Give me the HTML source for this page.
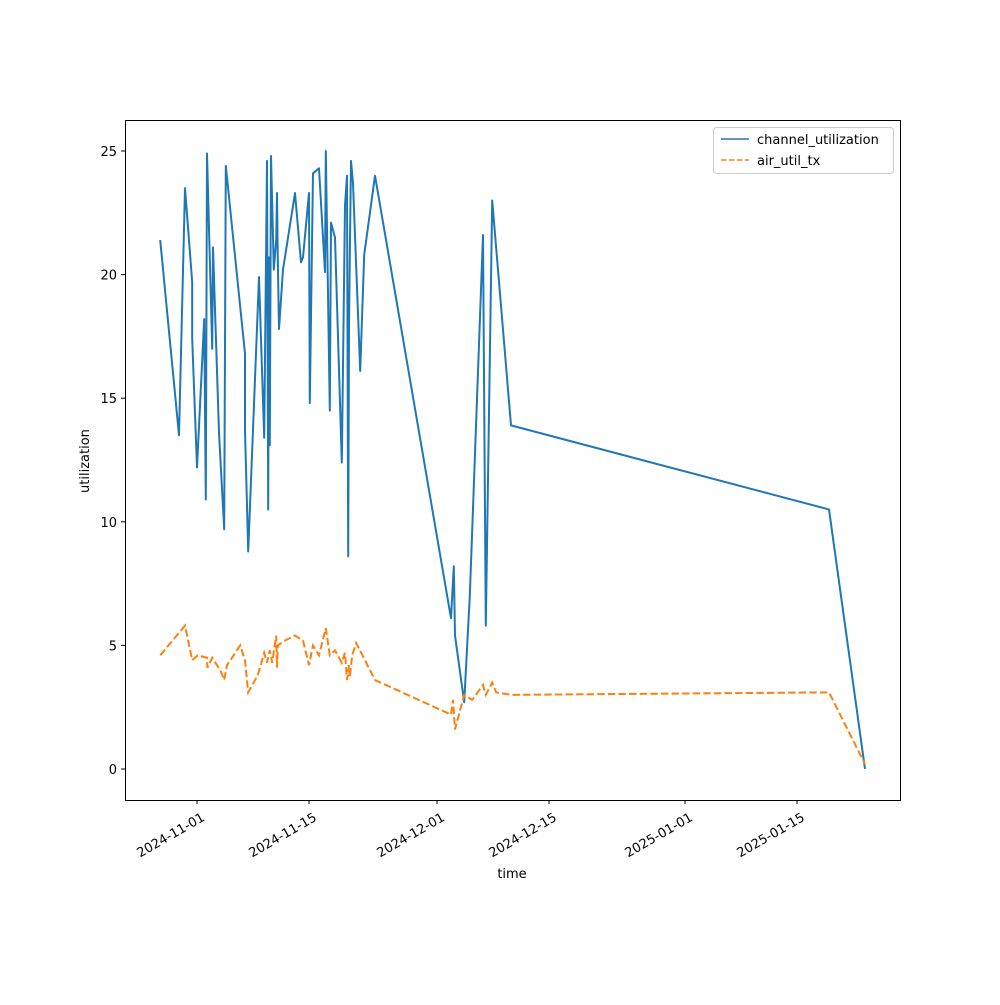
<!DOCTYPE html>
<html><head><meta charset="utf-8"><style>
body{margin:0;background:#fff;font-family:"Liberation Sans","DejaVu Sans",sans-serif}
svg text{font-family:"DejaVu Sans","Liberation Sans",sans-serif;font-size:13px;fill:#000}
</style></head><body>
<svg id="chart" width="1000" height="1000">
<rect x="125.5" y="120.5" width="775" height="680" fill="none" stroke="#000" stroke-width="1"/>
<g id="ticks"></g>
<g id="series"></g>
<text x="512" y="878" text-anchor="middle">time</text>
<text transform="translate(89,461) rotate(-90)" text-anchor="middle">utilization</text>
<g>
<rect x="713.5" y="127.5" width="180" height="46" rx="3" fill="#fff" fill-opacity="0.8" stroke="#ccc"/>
<line x1="721" y1="139" x2="749" y2="139" stroke="#1f77b4" stroke-width="1.5"/>
<text x="757" y="144">channel_utilization</text>
<line x1="721" y1="160" x2="749" y2="160" stroke="#ff7f0e" stroke-width="1.5" stroke-dasharray="5.5,2.4"/>
<text x="757" y="165">air_util_tx</text>
</g>
</svg>
<script>
// days since 2024-11-01
const chDays=[-4.6,-2.25,-1.5,-0.6,-0.6,0,0.9,1.1,1.25,1.9,2.0,2.75,3.4,3.6,6.0,6.0,6.4,7.75,8.4,8.75,8.9,9.0,9.1,9.25,9.6,9.9,10.0,10.1,10.25,10.75,12.25,13.0,13.25,14.0,14.1,14.5,15.25,16.0,16.1,16.6,16.75,17.25,18.1,18.5,18.75,18.9,19.0,19.1,19.25,19.5,20.4,20.9,22.25,31.75,32.1,32.25,33.4,34.1,35.75,36.1,36.9,39.25,79.0,83.5];
const chVals=[21.4,13.5,23.5,19.7,17.4,12.2,18.2,10.9,24.9,17.0,21.1,13.6,9.7,24.4,16.8,13.7,8.8,19.9,13.4,24.6,10.5,20.7,13.1,24.8,20.2,21.4,23.3,20.6,17.8,20.2,23.3,20.5,20.7,23.3,14.8,24.1,24.3,20.1,25.0,14.5,22.1,21.5,12.4,22.8,24.0,8.6,17.9,20.7,24.6,23.7,16.1,20.8,24.0,6.1,8.2,5.4,2.7,7.0,21.6,5.8,23.0,13.9,10.5,0.0];
const airDays=[-4.6,-1.5,-0.6,0.1,1.25,1.3,1.9,2.9,3.4,3.75,5.4,6.0,6.4,7.6,8.4,8.75,9.1,9.4,9.9,10.0,10.1,11.0,12.25,13.25,14.0,14.5,15.25,16.1,16.6,17.25,18.1,18.5,18.75,19.0,19.1,19.4,19.9,22.25,31.75,32.0,32.25,33.4,34.4,35.75,36.1,36.9,37.4,39.25,79.0,83.5];
const airVals=[4.6,5.8,4.4,4.6,4.5,4.1,4.5,4.0,3.6,4.2,5.0,4.4,3.1,3.8,4.7,4.3,4.8,4.3,5.4,4.1,5.0,5.2,5.4,5.2,4.2,5.0,4.6,5.7,4.6,4.8,4.3,4.7,3.6,4.2,3.7,4.6,5.1,3.6,2.2,2.8,1.6,3.0,2.8,3.4,3.0,3.5,3.1,3.0,3.1,0.2];
const yTicks=[0,5,10,15,20,25];
const xTickDays=[0,14,30,44,61,75];
const xTickLabels=["2024-11-01","2024-11-15","2024-12-01","2024-12-15","2025-01-01","2025-01-15"];
const X=d=>197+d*8, Y=v=>769-v*24.72;
const NS="http://www.w3.org/2000/svg";
const tk=document.getElementById('ticks'), sr=document.getElementById('series');
function mk(t,a,p){const e=document.createElementNS(NS,t);for(const k in a)e.setAttribute(k,a[k]);p.appendChild(e);return e;}
yTicks.forEach(v=>{
 const l=mk('line',{x1:121,x2:125,y1:Y(v),y2:Y(v),stroke:'#000'},tk);
 
 
 const t=mk('text',{x:117,y:Y(v)+5,'text-anchor':'end'},tk);t.textContent=v;
 
 
});
xTickDays.forEach((d,i)=>{
 const l=mk('line',{x1:X(d),x2:X(d),y1:800,y2:804,stroke:'#000'},tk);
 
 
 const t=mk('text',{transform:`translate(${X(d)+4},812) rotate(-30)`,'text-anchor':'end',dy:'0.7em'},tk);t.textContent=xTickLabels[i];
 
 
});
const p1=mk('polyline',{points:chDays.map((d,i)=>X(d)+','+Y(chVals[i])).join(' '),fill:'none',stroke:'#1f77b4','stroke-width':2,'stroke-linejoin':'round'},sr);


const p2=mk('polyline',{points:airDays.map((d,i)=>X(d)+','+Y(airVals[i])).join(' '),fill:'none',stroke:'#ff7f0e','stroke-width':2,'stroke-dasharray':'7.4,3.2'},sr);


</script>
</body></html>
